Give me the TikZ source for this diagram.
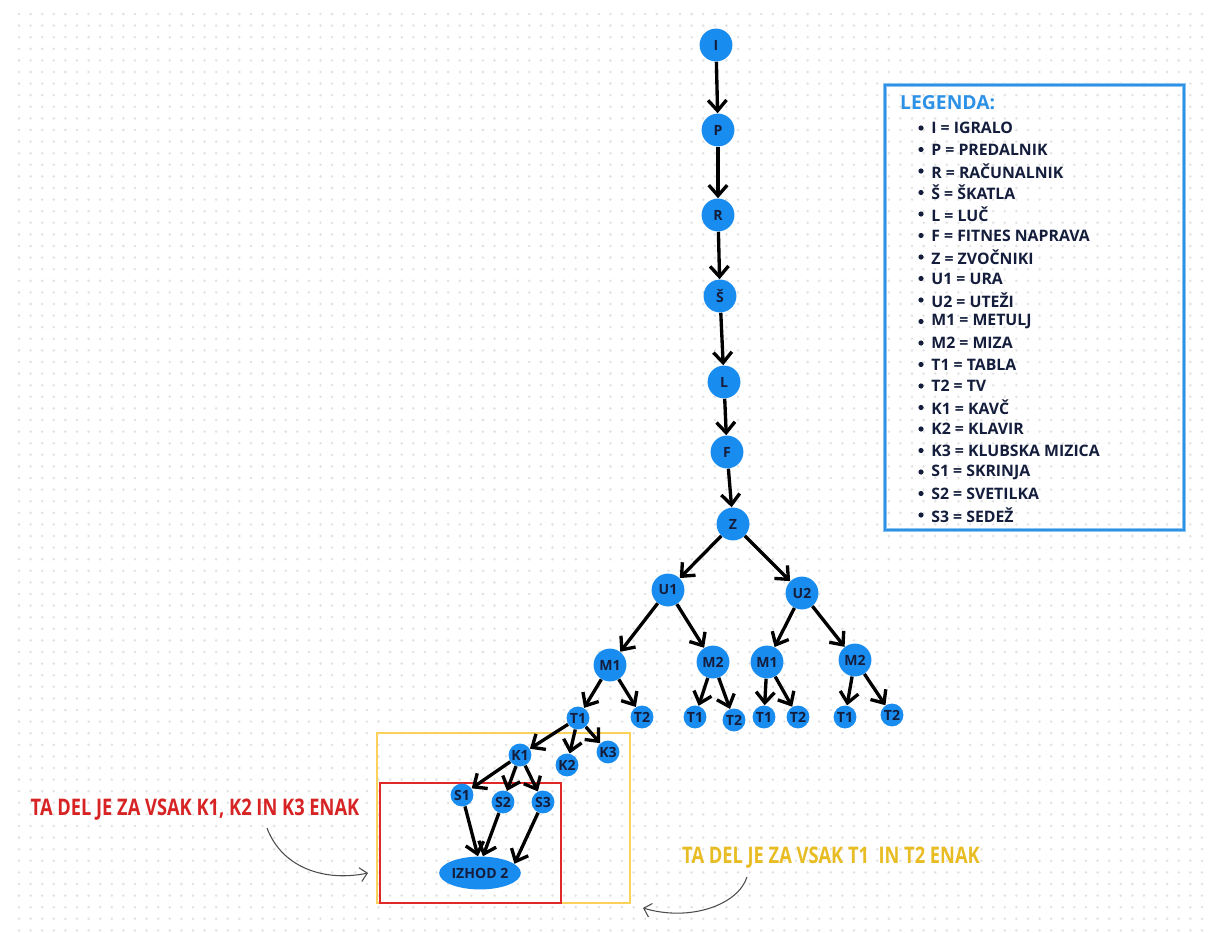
\documentclass[tikz,border=0pt]{standalone}
\usepackage{fontspec}
\setmainfont{Open Sans}
\newfontfamily\condfont[FakeStretch=0.8]{Open Sans}
\usetikzlibrary{arrows.meta,shapes.geometric}
\definecolor{nodeblue}{RGB}{25,140,240}
\definecolor{nodetext}{RGB}{20,30,60}
\definecolor{legblue}{RGB}{45,145,230}
\definecolor{boxyellow}{RGB}{250,210,90}
\definecolor{boxred}{RGB}{225,40,40}
\definecolor{txtred}{RGB}{215,35,35}
\definecolor{txtyellow}{RGB}{232,188,35}
\definecolor{dotgray}{RGB}{226,226,226}
\tikzset{
  bignode/.style={circle, fill=nodeblue, minimum size=18.7pt, inner sep=0pt,
    text=nodetext, font=\bfseries\fontsize{8}{9}\selectfont},
  smallnode/.style={bignode, minimum size=13pt},
  edge/.style={line width=1.9pt, -{Straight Barb[length=6pt,width=10.5pt]}},
  notearrow/.style={black!70, line width=0.6pt, -{Straight Barb[length=4pt,width=8pt]}}
}
\begin{document}
\begin{tikzpicture}[x=0.02cm, y=-0.02cm]
  \useasboundingbox (0,0) rectangle (1208,933);
  \fill[white] (0,0) rectangle (1208,933);
  % dotted paper
  \foreach \r in {0,...,79}
    \draw[dotgray, line width=1.6pt, line cap=round, dash pattern=on 0pt off 0.232cm]
      (19,{14+\r*11.6}) -- (1208,{14+\r*11.6});

  % frames round the repeated part
  \draw[boxyellow, line width=1.3pt] (377,733) rectangle (630,903);
  \draw[boxred, line width=1.3pt] (380,783) rectangle (561,903);

  % chain
  \node[bignode] (I) at (716,45) {I};
  \node[bignode] (P) at (718,130) {P};
  \node[bignode] (R) at (718,215) {R};
  \node[bignode] (Sh) at (720,296) {Š};
  \node[bignode] (L) at (724,382) {L};
  \node[bignode] (F) at (727,452) {F};
  \node[bignode] (Z) at (733,524) {Z};
  % tree
  \node[bignode] (U1) at (668,590) {U1};
  \node[bignode] (U2) at (802,593) {U2};
  \node[bignode] (M1a) at (610,665) {M1};
  \node[bignode] (M2a) at (713,662) {M2};
  \node[bignode] (M1b) at (767,662) {M1};
  \node[bignode] (M2b) at (855,660) {M2};
  \node[smallnode] (T1a) at (578,718) {T1};
  \node[smallnode] (T2a) at (642,717) {T2};
  \node[smallnode] (T1b) at (695,717) {T1};
  \node[smallnode] (T2b) at (734,720) {T2};
  \node[smallnode] (T1c) at (764,717) {T1};
  \node[smallnode] (T2c) at (798,717) {T2};
  \node[smallnode] (T1d) at (845,717) {T1};
  \node[smallnode] (T2d) at (892,715) {T2};
  \node[smallnode] (K1) at (520,755) {K1};
  \node[smallnode] (K2) at (567,765) {K2};
  \node[smallnode] (K3) at (608,752) {K3};
  \node[smallnode] (S1) at (462,795) {S1};
  \node[smallnode] (S2) at (503,802) {S2};
  \node[smallnode] (S3) at (543,802) {S3};
  \node[ellipse, fill=nodeblue, minimum width=46.5pt, minimum height=18.7pt, inner sep=0pt,
    text=nodetext, font=\bfseries\fontsize{8}{9}\selectfont] (izhod) at (480,873) {IZHOD 2};

  \foreach \a/\b in {I/P, P/R, R/Sh, Sh/L, L/F, F/Z, Z/U1, Z/U2,
      U1/M1a, U1/M2a, U2/M1b, U2/M2b,
      M1a/T1a, M1a/T2a, M2a/T1b, M2a/T2b, M1b/T1c, M1b/T2c, M2b/T1d, M2b/T2d,
      T1a/K1, T1a/K2, T1a/K3, K1/S1, K1/S2, K1/S3}
    \draw[edge] (\a) -- (\b);
  \draw[edge] (S1) -- (izhod.97);
  \draw[edge] (S2) -- (izhod.80);
  \draw[edge] (S3) -- (izhod.15);

  % legend
  \draw[legblue!55, line width=2.2pt] (885,85) rectangle (1184,530);
  \draw[legblue, line width=1pt] (885,85) rectangle (1184,530);
  \node[anchor=west, text=legblue, font=\bfseries\fontsize{11}{12}\selectfont] (legtitle) at (894,103) {LEGENDA:};
  \foreach \txt [count=\i] in {I = IGRALO, P = PREDALNIK, R = RAČUNALNIK, Š = ŠKATLA,
      L = LUČ, F = FITNES NAPRAVA, Z = ZVOČNIKI, U1 = URA, U2 = UTEŽI, M1 = METULJ,
      M2 = MIZA, T1 = TABLA, T2 = TV, K1 = KAVČ, K2 = KLAVIR, K3 = KLUBSKA MIZICA,
      S1 = SKRINJA, S2 = SVETILKA, S3 = SEDEŽ} {
    \fill[nodetext] (921,{128+(\i-1)*21.5}) circle (2.6);
    \node[anchor=west, inner sep=0pt, text=nodetext, font=\bfseries\fontsize{9}{10}\selectfont]
      (leg\i) at (931,{128+(\i-1)*21.5}) {\txt};
  }

  % notes
  \node[text=txtred, font=\condfont\bfseries\fontsize{13}{15}\selectfont] (rednote) at (195,810)
    {TA DEL JE ZA VSAK K1, K2 IN K3 ENAK};
  \node[text=txtyellow, font=\condfont\bfseries\fontsize{13}{15}\selectfont] (yellownote) at (831,858)
    {TA DEL JE ZA VSAK T1\ \ IN T2 ENAK};
  \coordinate (redfrom) at (267,828);
  \coordinate (redtip) at (368,873);
  \coordinate (yellowfrom) at (747,877);
  \coordinate (yellowtip) at (643,908);
  \draw[notearrow] (redfrom) .. controls (282,868) and (325,882) .. (redtip);
  \draw[notearrow] (yellowfrom) .. controls (738,905) and (690,922) .. (yellowtip);
\end{tikzpicture}
\end{document}
